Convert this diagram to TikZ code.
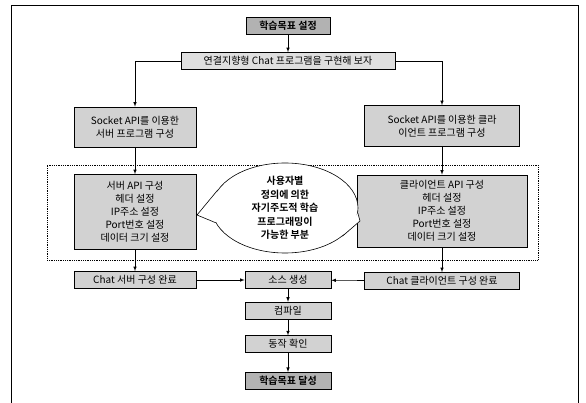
\documentclass[tikz,border=0pt]{standalone}
\usepackage{fontspec}
\setmainfont{Noto Sans CJK KR}[BoldFont={Noto Sans CJK KR Bold}]
\usepackage{tikz}
\usetikzlibrary{positioning,shapes,fit}

\begin{document}
\begin{tikzpicture}[-latex, x=1pt, y=-1pt, semithick,
        box/.style = {draw, fill=gray!35, inner sep=1pt, align=center, minimum height=17pt,
                      font=\fontsize{10}{13}\selectfont},
        goalbox/.style = {box, fill=gray!60, thick, font=\bfseries\fontsize{10}{13}\selectfont},
        region/.style = {draw, densely dotted, thick, minimum width=491pt, minimum height=95pt},
        bubble/.style = {draw, ellipse, fill=white, inner sep=-2pt, minimum width=146pt,
                         minimum height=90pt, align=center, font=\bfseries\fontsize{10}{13.5}\selectfont}]
            \useasboundingbox (0,0) rectangle (586,403);
            \draw[-, thick] (11,403) |- (578,5) -- (578,403);
            \node[region] (zone) at (292.5,212.5) {};
            \node[goalbox, minimum width=84pt] (goal) at (288,26) {학습목표 설정};
            \node[box, fill=gray!25, minimum width=214pt] (task) at (288,61) {연결지향형 Chat 프로그램을 구현해 보자};
            \node[box, minimum width=122pt, minimum height=40pt] (srv) at (135,127) {Socket API를 이용한\\서버 프로그램 구성};
            \node[box, minimum width=155pt, minimum height=41pt] (cli) at (442,126) {Socket API를 이용한 클라\\이언트 프로그램 구성};
            \node[box, minimum width=122pt, minimum height=75pt] (srvapi) at (135,212) {서버 API 구성\\헤더 설정\\IP주소 설정\\Port번호 설정\\데이터 크기 설정};
            \node[box, minimum width=170pt, minimum height=72pt] (cliapi) at (442,211) {클라이언트 API 구성\\헤더 설정\\IP주소 설정\\Port번호 설정\\데이터 크기 설정};
            \node[bubble] (note) at (285,208) {사용자별\\정의에 의한\\자기주도적 학습\\프로그래밍이\\가능한 부분};
            \coordinate (tl) at (197,215);
            \coordinate (tr) at (360,221);
            \filldraw[-, fill=white] (note.165) -- (tl) -- (note.192);
            \filldraw[-, fill=white] (note.-4) -- (tr) -- (note.-26);
            \node[box, minimum width=122pt] (srvdone) at (135,280) {Chat 서버 구성 완료};
            \node[box, minimum width=86pt] (src) at (288,280) {소스 생성};
            \node[box, minimum width=155pt] (clidone) at (442,281) {Chat 클라이언트 구성 완료};
            \node[box, minimum width=86pt] (comp) [below=13pt of src] {컴파일};
            \node[box, minimum width=86pt] (run) [below=16pt of comp] {동작 확인};
            \node[goalbox, minimum width=86pt] (done) [below=19pt of run] {학습목표 달성};
            \draw (goal) -- (task);
            \draw (task.west) -| (srv);
            \draw (task.east) -| (cli);
            \draw (srv) -- (srvapi);
            \draw (cli) -- (cliapi);
            \draw (srvapi) -- (srvdone);
            \draw (cliapi) -- (clidone);
            \draw (srvdone) -- (src);
            \draw (clidone) -- (src);
            \draw (src) -- (comp);
            \draw (comp) -- (run);
            \draw (run) -- (done);
        \end{tikzpicture}
\end{document}
